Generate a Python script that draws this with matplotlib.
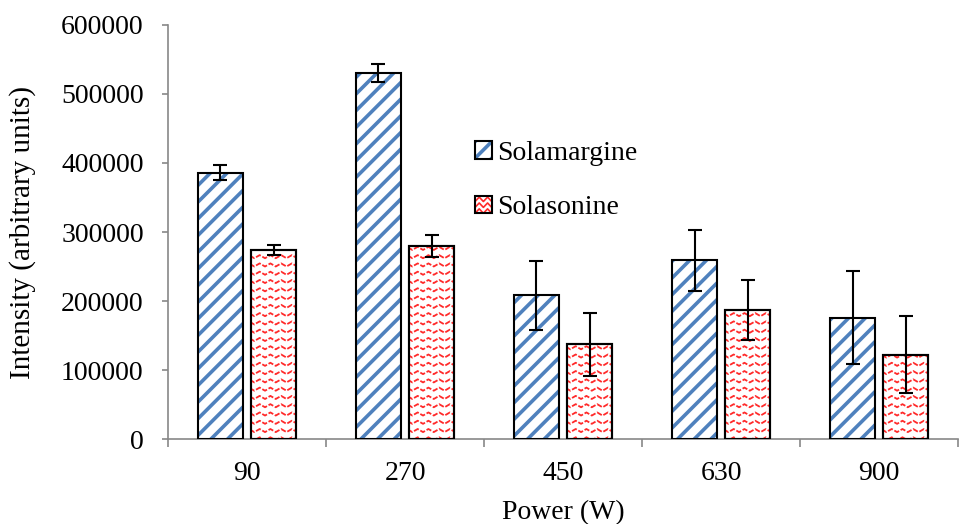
import matplotlib
matplotlib.use("Agg")
import matplotlib.pyplot as plt
from matplotlib.patches import Patch, Rectangle
from matplotlib.lines import Line2D
from matplotlib.legend_handler import HandlerBase
import numpy as np

# data
powers = ["90", "270", "450", "630", "900"]
solamargine = [386000, 530000, 208000, 259000, 176000]
solamargine_err = [11000, 13000, 50000, 44000, 67000]
solasonine = [274000, 280000, 137000, 187000, 122000]
solasonine_err = [7000, 16000, 45000, 43000, 56000]

BLUE = "#4F81BD"
RED = "#FF2A2A"
GRAY = "#888888"
FS = 20

plt.rcParams["font.family"] = ["Liberation Serif", "DejaVu Serif"]
plt.rcParams["hatch.linewidth"] = 2.6


class ZigzagHandler(HandlerBase):
    """Legend box with red zigzag lines, like the bars"""
    def create_artists(self, legend, orig_handle, xdescent, ydescent,
                       width, height, fontsize, trans):
        x0, y0 = -xdescent, -ydescent
        back = Rectangle((x0, y0), width, height, facecolor="white",
                         edgecolor="none", transform=trans)
        arts = [back]
        xs = np.linspace(x0, x0 + width, 5)
        zig = np.where(np.arange(len(xs)) % 2 == 0, 0, height * 0.25)
        for yy in np.linspace(y0, y0 + height, 4):
            ln = Line2D(xs, yy + zig, color=RED, lw=1.2, transform=trans)
            ln.set_clip_path(back)
            arts.append(ln)
        arts.append(Rectangle((x0, y0), width, height, facecolor="none",
                              edgecolor="black", lw=1.5, transform=trans))
        return arts


fig = plt.figure(figsize=(9.6, 5.24), dpi=100)
ax = fig.add_axes([0.175, 0.1622, 0.823, 0.7901])

x = np.arange(len(powers))
width = 0.28
off = 0.168

# blue diagonal stripes: hatch drawn in edge colour, so draw black border separately
ax.bar(x - off, solamargine, width, facecolor="white", edgecolor=BLUE,
       linewidth=0, hatch="//", zorder=2)
ax.bar(x - off, solamargine, width, facecolor="none", edgecolor="black",
       linewidth=1.5, zorder=3)

bars2 = ax.bar(x + off, solasonine, width, facecolor="white", edgecolor="black",
               linewidth=1.5, zorder=2)

# zigzag fill for the red bars (no wave hatch in matplotlib)
for b in bars2:
    x0, y0 = b.get_x(), b.get_y()
    w, h = b.get_width(), b.get_height()
    xs = np.arange(x0 - 0.05, x0 + w + 0.05, 0.034)
    zig = np.where(np.arange(len(xs)) % 2 == 0, 0, 4500)
    for yy in np.arange(y0 - 2000, y0 + h + 12000, 12000):
        ln, = ax.plot(xs, yy + zig, color=RED, lw=1.3, ls=(0, (3, 1)), zorder=2.5)
        ln.set_clip_path(b)
    ax.bar(b.get_x() + w / 2, h, w, facecolor="none", edgecolor="black", linewidth=1.5, zorder=3)

ax.errorbar(x - off, solamargine, yerr=solamargine_err, fmt="none", ecolor="black",
            elinewidth=1.5, capsize=5, capthick=1.5, zorder=4)
ax.errorbar(x + off, solasonine, yerr=solasonine_err, fmt="none", ecolor="black",
            elinewidth=1.5, capsize=5, capthick=1.5, zorder=4)

ax.set_xlim(-0.5, len(powers) - 0.5)
ax.set_ylim(0, 600000)
ax.set_yticks(np.arange(0, 600001, 100000))
ax.set_xticks(x)
ax.set_xticklabels(powers)
ax.set_xticks(np.arange(-0.5, len(powers), 1), minor=True)
ax.tick_params(axis="x", which="major", length=0, labelsize=FS, pad=16)
ax.tick_params(axis="x", which="minor", length=6, color=GRAY, width=1.2, direction="out")
ax.tick_params(axis="y", length=4.5, color=GRAY, width=1.2, labelsize=FS, pad=13)

for s in ["top", "right"]:
    ax.spines[s].set_visible(False)
for s in ["left", "bottom"]:
    ax.spines[s].set_color(GRAY)
    ax.spines[s].set_linewidth(1.2)

ax.set_xlabel("Power (W)", fontsize=FS, labelpad=10)
ax.set_ylabel("Intensity (arbitrary units)", fontsize=21, labelpad=18)

# legend handles
h1 = (Patch(facecolor="white", edgecolor=BLUE, hatch="//", linewidth=0),
      Patch(facecolor="none", edgecolor="black", linewidth=1.5))
h2 = Patch(facecolor="white", edgecolor="black")
ax.legend([h1, h2], ["Solamargine", "Solasonine"], loc="upper left",
          bbox_to_anchor=(0.357, 0.78), frameon=False, fontsize=FS,
          handlelength=0.6, handleheight=0.6, handletextpad=0.2, labelspacing=1.05,
          handler_map={h2: ZigzagHandler()})

fig.savefig("out.png", dpi=100)
